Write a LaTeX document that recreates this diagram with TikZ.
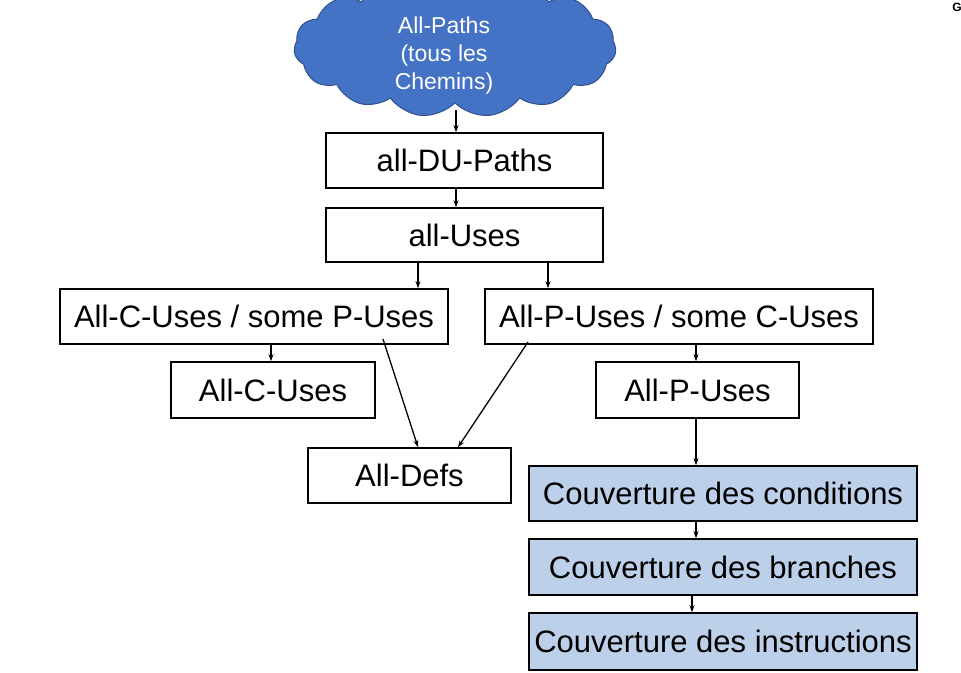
\documentclass[tikz,border=0pt]{standalone}
\usepackage{fontspec}
\setmainfont{Liberation Sans}
\usetikzlibrary{shapes.symbols,arrows.meta}
\definecolor{cloudblue}{RGB}{68,114,196}
\definecolor{cloudedge}{RGB}{47,82,143}
\definecolor{lightbox}{RGB}{189,208,234}
\tikzset{
  box/.style={draw=black, line width=1.6pt, fill=white, inner sep=0pt, font=\fontsize{31}{36}\selectfont},
  bluebox/.style={box, fill=lightbox},
  arr/.style={-{Stealth[length=7pt,width=5pt]}, line width=1.3pt, shorten >=0pt}
}
\begin{document}
\begin{tikzpicture}[x=1pt,y=-1pt]
\useasboundingbox (0,0) rectangle (961,672);
\clip (0,0) rectangle (961,672);
% cloud
\node[cloud, cloud puffs=15, cloud puff arc=100, aspect=2.8, draw=cloudedge, line width=1pt, fill=cloudblue,
      minimum width=322pt, minimum height=140pt, inner sep=0pt] (cloud) at (455,47) {};
\node[text=white, align=center, font=\fontsize{23}{28}\selectfont] (cloudtxt) at (444,56) {All-Paths\\(tous les\\Chemins)};
% boxes
\node[box, minimum width=277pt, minimum height=55pt] (du) at (464.5,160.5) {all-DU-Paths};
\node[box, minimum width=277pt, minimum height=54pt] (uses) at (464.5,235) {all-Uses};
\node[box, minimum width=388pt, minimum height=55pt] (cu) at (254,316.5) {All-C-Uses / some P-Uses};
\node[box, minimum width=388pt, minimum height=55pt] (pu) at (679,316.5) {All-P-Uses / some C-Uses};
\node[box, minimum width=204pt, minimum height=56pt] (allc) at (273,390) {All-C-Uses};
\node[box, minimum width=203pt, minimum height=56pt] (allp) at (697.5,390) {All-P-Uses};
\node[box, minimum width=203pt, minimum height=55pt] (defs) at (409.5,475.5) {All-Defs};
\node[bluebox, minimum width=388pt, minimum height=55pt] (cond) at (723,493.5) {Couverture des conditions};
\node[bluebox, minimum width=388pt, minimum height=56pt] (bran) at (723,567) {Couverture des branches};
\node[bluebox, minimum width=388pt, minimum height=57pt] (inst) at (723,641.5) {Couverture des instructions};
% corner fragment
\node[font=\bfseries\fontsize{12}{13}\selectfont, anchor=center] (g) at (957,7) {G};
% arrows
\coordinate (cb) at (456,110);
\draw[arr] (cb) -- (du.north -| cb);
\draw[arr] ([xshift=-8.5pt]du.south) -- ([xshift=-8.5pt]uses.north);
\draw[arr] (uses.south -| 418,0) -- (cu.north -| 418,0);
\draw[arr] (uses.south -| 548,0) -- (pu.north -| 548,0);
\draw[arr] (cu.south -| 271,0) -- (allc.north -| 271,0);
\draw[arr] (pu.south -| 696,0) -- (allp.north -| 696,0);
\draw[arr] (allp.south -| 696,0) -- (cond.north -| 696,0);
\draw[arr] (cond.south -| 696,0) -- (bran.north -| 696,0);
\draw[arr] (bran.south -| 692,0) -- (inst.north -| 692,0);
\draw[arr] (383,339) -- (defs.north -| 418,0);
\draw[arr] (528,342) -- (defs.north -| 458,0);
\end{tikzpicture}
\end{document}
